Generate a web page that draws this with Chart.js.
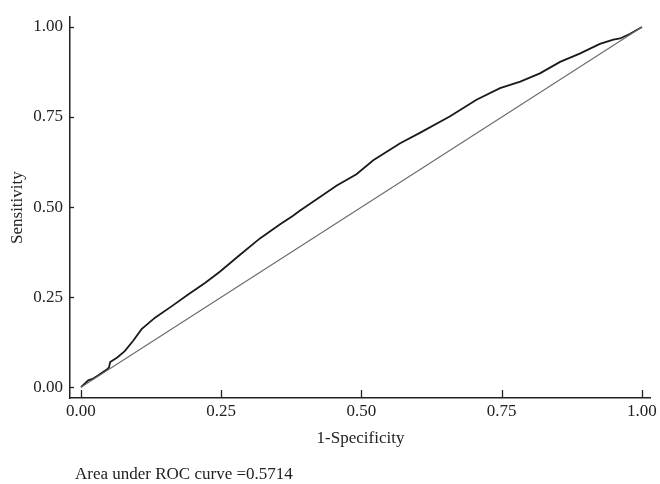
<!DOCTYPE html>
<html>
<head>
<meta charset="utf-8">
<script src="https://cdn.jsdelivr.net/npm/chart.js@4"></script>
<style>
  body { margin: 0; background: #fff; }
  #roc { display: block; }
</style>
</head>
<body>
<canvas id="roc" width="660" height="484"></canvas>
<script>
// pontos da curva ROC (1-especificidade, sensibilidade)
const fpr = [0, 0.013, 0.022, 0.031, 0.046, 0.050, 0.052, 0.064, 0.078, 0.093, 0.108, 0.132, 0.162, 0.191,
  0.221, 0.248, 0.283, 0.319, 0.355, 0.378, 0.390, 0.426, 0.456, 0.491, 0.521, 0.569, 0.604, 0.658,
  0.705, 0.747, 0.783, 0.818, 0.854, 0.889, 0.925, 0.949, 0.961, 0.979, 1.0];
const tpr = [0, 0.019, 0.024, 0.033, 0.049, 0.055, 0.070, 0.082, 0.100, 0.129, 0.161, 0.193, 0.225, 0.257,
  0.289, 0.321, 0.367, 0.413, 0.452, 0.476, 0.490, 0.528, 0.560, 0.591, 0.630, 0.677, 0.706, 0.752,
  0.798, 0.830, 0.848, 0.871, 0.903, 0.926, 0.953, 0.965, 0.968, 0.981, 1.0];
// linha de referencia
const refX = [0, 1];
const refY = [0, 1];
// eixos
const tickValues = [0, 0.25, 0.5, 0.75, 1];
const xTitle = '1-Specificity';
const yTitle = 'Sensitivity';
const aucNote = 'Area under ROC curve =0.5714';

const serif = '"Liberation Serif", "Times New Roman", serif';
const ink = '#222';

// ticks para dentro, titulos e nota da area
const extras = {
  id: 'extras',
  afterDraw(chart) {
    const { ctx, chartArea, scales } = chart;
    ctx.save();
    ctx.strokeStyle = ink;
    ctx.lineWidth = 1.3;
    tickValues.forEach(v => {
      const px = Math.round(scales.x.getPixelForValue(v)) + 0.5;
      ctx.beginPath();
      ctx.moveTo(px, chartArea.bottom);
      ctx.lineTo(px, chartArea.bottom - 8);
      ctx.stroke();
      const py = Math.round(scales.y.getPixelForValue(v)) + 0.5;
      ctx.beginPath();
      ctx.moveTo(chartArea.left, py);
      ctx.lineTo(chartArea.left + 4, py);
      ctx.stroke();
    });
    ctx.fillStyle = ink;
    ctx.font = '17px ' + serif;
    ctx.textAlign = 'center';
    ctx.textBaseline = 'middle';
    ctx.fillText(xTitle, (chartArea.left + chartArea.right) / 2, 439);
    ctx.save();
    ctx.translate(18, (chartArea.top + chartArea.bottom) / 2);
    ctx.rotate(-Math.PI / 2);
    ctx.fillText(yTitle, 0, 0);
    ctx.restore();
    ctx.textAlign = 'left';
    ctx.fillText(aucNote, 75, 475);
    ctx.restore();
  }
};

const tickLabel = v => Number(v).toFixed(2);

new Chart(document.getElementById('roc').getContext('2d'), {
  type: 'scatter',
  data: {
    datasets: [{
      data: refX.map((x, i) => ({ x, y: refY[i] })),
      showLine: true,
      borderColor: '#6a6a6a',
      borderWidth: 1.1,
      pointRadius: 0
    }, {
      data: fpr.map((x, i) => ({ x, y: tpr[i] })),
      showLine: true,
      borderColor: '#1a1a1a',
      borderWidth: 1.8,
      pointRadius: 0,
      tension: 0
    }]
  },
  options: {
    responsive: false,
    animation: false,
    layout: { padding: { top: 13, right: 9, left: 0, bottom: 0 } },
    plugins: {
      legend: { display: false },
      tooltip: { enabled: false }
    },
    scales: {
      x: {
        type: 'linear',
        min: -0.0196,
        max: 1.016,
        afterBuildTicks: s => { s.ticks = tickValues.map(value => ({ value })); },
        afterFit: s => { s.height = 86; },
        grid: { display: true, drawOnChartArea: false, drawTicks: false },
        border: { display: true, color: ink, width: 1.5 },
        ticks: { callback: tickLabel, padding: 3, color: ink, font: { family: serif, size: 17 }, maxRotation: 0 }
      },
      y: {
        type: 'linear',
        min: -0.030,
        max: 1.027,
        afterBuildTicks: s => { s.ticks = tickValues.map(value => ({ value })); },
        afterFit: s => { s.width = 70; },
        grid: { display: true, drawOnChartArea: false, drawTicks: false },
        border: { display: true, color: ink, width: 1.5 },
        ticks: { callback: tickLabel, padding: 7, color: ink, font: { family: serif, size: 17 } }
      }
    }
  },
  plugins: [extras]
});
</script>
</body>
</html>
